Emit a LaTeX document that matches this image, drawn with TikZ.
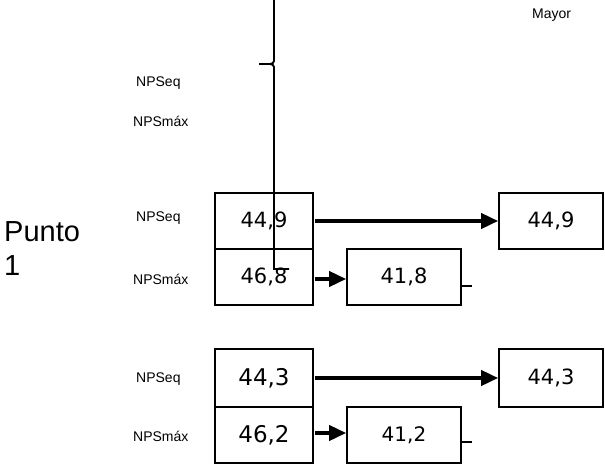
\documentclass[tikz,border=0pt]{standalone}
\usepackage{fontspec}
\setmainfont{Liberation Sans}
\newfontfamily\numfont{DejaVu Sans}
\usetikzlibrary{arrows.meta}
\tikzset{
  valbox/.style={draw, line width=1.6pt, inner sep=0pt, font=\numfont\fontsize{21}{25}\selectfont},
  lbl/.style={anchor=west, inner sep=0pt, font=\fontsize{14}{16}\selectfont},
  bigarrow/.style={line width=3.8pt, -{Triangle[length=17pt,width=15pt]}, shorten <=1.5pt},
  thinline/.style={line width=1.9pt},
}
\begin{document}
\begin{tikzpicture}[x=1pt,y=-1pt]
\useasboundingbox (0,0) rectangle (605,465);
% boxes, top group
\node[valbox, minimum width=98pt, minimum height=56pt] (a1) at (264,221) {44,9};
\node[valbox, minimum width=98pt, minimum height=56pt] (a2) at (264,277) {46,8};
\node[valbox, minimum width=114pt, minimum height=56pt] (b1) at (404,277) {41,8};
\node[valbox, minimum width=104pt, minimum height=56pt] (c1) at (551,221) {44,9};
% boxes, bottom group
\node[valbox, minimum width=98pt, minimum height=58pt, font=\numfont\fontsize{23}{27}\selectfont] (d1) at (264,378) {44,3};
\node[valbox, minimum width=98pt, minimum height=56pt, font=\numfont\fontsize{23}{27}\selectfont] (d2) at (264,435) {46,2};
\node[valbox, minimum width=114pt, minimum height=56pt, font=\numfont\fontsize{20}{24}\selectfont] (e1) at (404,435) {41,2};
\node[valbox, minimum width=104pt, minimum height=58pt] (f1) at (551,378) {44,3};
% arrows
\draw[bigarrow] (a1.east) -- (c1.west);
\draw[bigarrow] (a2.east |- 0,279) -- (b1.west |- 0,279);
\draw[bigarrow] (d1.east) -- (f1.west);
\draw[bigarrow] (d2.east |- 0,433) -- (e1.west |- 0,433);
% labels
\node[lbl] (l1) at (136,83) {NPSeq};
\node[lbl] (l2) at (133,121) {NPSmáx};
\node[lbl] (l3) at (136,218) {NPSeq};
\node[lbl] (l4) at (133,279) {NPSmáx};
\node[lbl] (l5) at (136,379) {NPSeq};
\node[lbl] (l6) at (133,436) {NPSmáx};
\node[anchor=west, inner sep=0pt, font=\fontsize{14}{16}\selectfont] (may) at (532,15) {Mayor};
\node[anchor=north west, inner sep=0pt, align=left, font=\fontsize{29}{34}\selectfont] (pt) at (4,221) {Punto\\1};
% brace line
\coordinate (bt) at (274,0);
\coordinate (bk) at (259,64);
\coordinate (bb) at (274,269);
\coordinate (be) at (289,269);
\draw[thinline] (bt) -- (274,61) to[out=-90,in=0] (270,64) -- (bk);
\draw[thinline] (270,64) to[out=0,in=90] (274,67) -- (bb) -- (be);
% ticks
\coordinate (t1) at (472,286);
\coordinate (t2) at (472,442);
\draw[thinline] (b1.east |- t1) -- (t1);
\draw[thinline] (e1.east |- t2) -- (t2);
\end{tikzpicture}
\end{document}
